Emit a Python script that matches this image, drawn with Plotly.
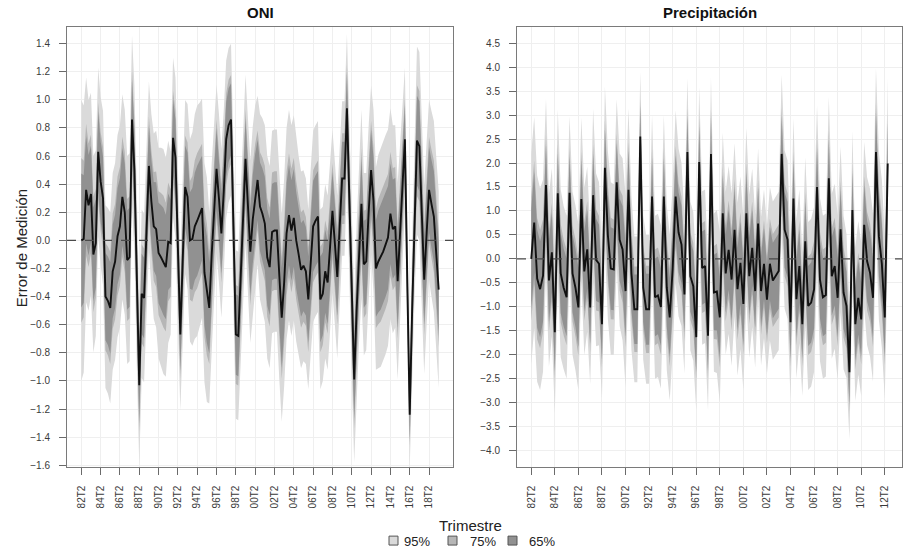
import numpy as np
import plotly.graph_objects as go

# ---------------- data ----------------
oni_tick_labels = ["82T2", "84T2", "86T2", "88T2", "90T2", "92T2", "94T2", "96T2", "98T2", "00T2",
                   "02T2", "04T2", "06T2", "08T2", "10T2", "12T2", "14T2", "16T2", "18T2"]
prec_tick_labels = ["82T2", "84T2", "86T2", "88T2", "90T2", "92T2", "94T2", "96T2", "98T2", "00T2",
                    "02T2", "04T2", "06T2", "08T2", "10T2", "12T2"]

# ONI: point estimate of the measurement error, quarterly from 82T2
oni_center = [
    0.00, 0.01, 0.36, 0.25, 0.33, -0.10, -0.02, 0.63, 0.42, 0.30,
    -0.40, -0.43, -0.48, -0.22, -0.15, 0.03, 0.10, 0.31, 0.20, -0.14,
    -0.12, 0.86, 0.50, -0.30, -1.03, -0.38, -0.41, 0.06, 0.53, 0.28,
    0.10, 0.08, -0.09, -0.12, -0.15, -0.19, -0.01, -0.02, 0.73, 0.59,
    -0.05, -0.67, -0.14, 0.38, 0.31, 0.00, 0.01, 0.10, 0.14, 0.18,
    0.23, -0.23, -0.35, -0.48, -0.10, 0.20, 0.51, 0.30, 0.05, 0.35,
    0.72, 0.82, 0.86, 0.10, -0.67, -0.68, -0.26, 0.16, 0.58, 0.25,
    -0.08, 0.15, 0.30, 0.43, 0.24, 0.19, 0.12, -0.12, -0.19, 0.06,
    0.07, 0.07, -0.25, -0.55, -0.30, 0.05, 0.18, 0.07, 0.16, 0.00,
    -0.10, -0.21, -0.18, -0.22, -0.42, -0.15, 0.10, 0.14, 0.17, -0.42,
    -0.38, -0.22, -0.30, -0.05, 0.21, -0.02, -0.26, 0.10, 0.44, 0.44,
    0.94, 0.30, -0.40, -0.99, -0.50, -0.10, 0.26, -0.17, -0.15, 0.20,
    0.50, 0.28, -0.20, -0.15, -0.12, -0.08, -0.03, 0.02, 0.19, 0.08,
    0.10, -0.29, 0.05, 0.40, 0.72, -0.30, -1.24, -0.50, 0.20, 0.71,
    0.67, 0.20, -0.28, 0.05, 0.36, 0.26, 0.17, -0.10, -0.35,
]
# ONI: half width of the 95% band
oni_w95 = [
    1.00, 0.95, 0.80, 0.75, 0.72, 0.70, 0.66, 0.60, 0.60, 0.62,
    0.65, 0.66, 0.68, 0.70, 0.70, 0.72, 0.72, 0.73, 0.73, 0.74,
    0.74, 0.60, 0.60, 0.60, 0.57, 0.60, 0.60, 0.60, 0.60, 0.62,
    0.66, 0.70, 0.75, 0.78, 0.80, 0.78, 0.72, 0.65, 0.57, 0.57,
    0.55, 0.54, 0.58, 0.62, 0.66, 0.72, 0.76, 0.80, 0.82, 0.80,
    0.78, 0.78, 0.80, 0.68, 0.65, 0.62, 0.60, 0.60, 0.60, 0.58,
    0.56, 0.55, 0.54, 0.58, 0.60, 0.60, 0.62, 0.62, 0.60, 0.62,
    0.65, 0.66, 0.66, 0.60, 0.66, 0.68, 0.70, 0.72, 0.72, 0.72,
    0.72, 0.72, 0.74, 0.74, 0.74, 0.75, 0.75, 0.75, 0.73, 0.72,
    0.70, 0.70, 0.68, 0.66, 0.64, 0.66, 0.68, 0.68, 0.68, 0.64,
    0.62, 0.62, 0.62, 0.60, 0.58, 0.58, 0.58, 0.56, 0.55, 0.55,
    0.53, 0.55, 0.57, 0.59, 0.60, 0.63, 0.67, 0.65, 0.63, 0.62,
    0.60, 0.65, 0.72, 0.76, 0.78, 0.78, 0.78, 0.77, 0.75, 0.74,
    0.72, 0.70, 0.62, 0.56, 0.51, 0.45, 0.38, 0.50, 0.60, 0.67,
    0.67, 0.67, 0.67, 0.65, 0.64, 0.66, 0.68, 0.69, 0.70,
]

# Precipitacion: point estimate, quarterly from 82T2
prec_center = [
    0.00, 0.76, -0.41, -0.63, -0.35, 1.54, -0.45, 0.14, -1.53, 1.37,
    -0.30, -0.60, -0.80, 1.38, -0.30, -0.60, -1.01, 1.25, -0.26, 0.20,
    -1.01, 1.33, -0.02, -0.10, -1.36, 1.90, 0.50, -0.20, -0.22, 1.60,
    0.40, 0.20, -0.67, 1.44, -0.30, -1.05, -1.05, 2.55, -0.60, -1.05,
    -1.05, 1.30, -0.80, -0.76, -1.00, 1.30, -0.60, -1.22, -0.20, 1.30,
    0.55, 0.30, -0.74, 2.23, -0.36, -0.57, -1.63, 2.02, -0.19, -0.15,
    -1.60, 2.19, -0.70, -0.68, -1.22, 0.95, -0.30, 0.19, -0.43, 0.61,
    -0.63, -0.08, -0.94, 0.95, -0.36, 0.23, -0.67, 0.74, -0.67, -0.10,
    -0.85, -0.10, -0.45, -0.35, -0.25, 2.19, 0.61, 0.40, -1.32, 1.26,
    -0.84, -0.15, -1.36, 0.37, -0.98, -0.91, -0.63, 1.50, -0.43, -0.80,
    -0.75, 1.68, -0.36, -0.15, -0.81, 0.62, -0.70, -0.98, -2.36, 1.02,
    -1.36, -0.81, -1.26, 0.71, -0.05, -0.29, -0.81, 2.23, 0.47, -0.10,
    -1.22, 1.99,
]
# Precipitacion: half width of the 95% band
prec_w95 = [
    2.20, 2.20, 2.15, 2.10, 2.00, 1.80, 1.80, 1.75, 1.70, 1.75,
    1.75, 1.70, 1.70, 1.60, 1.70, 1.72, 1.73, 1.70, 1.75, 1.72,
    1.60, 1.80, 1.80, 1.70, 1.55, 1.70, 1.75, 1.80, 1.78, 1.73,
    1.80, 1.90, 2.00, 1.70, 1.60, 1.52, 1.52, 1.35, 1.50, 1.55,
    1.55, 1.70, 1.70, 1.70, 1.70, 1.70, 1.72, 1.73, 1.75, 1.80,
    1.75, 1.70, 1.65, 1.55, 1.55, 1.55, 1.53, 1.57, 1.60, 1.60,
    1.56, 1.60, 1.65, 1.70, 1.78, 1.68, 1.70, 1.75, 1.80, 1.80,
    1.80, 1.80, 1.80, 1.78, 1.70, 1.65, 1.60, 1.57, 1.55, 1.55,
    1.55, 1.60, 1.65, 1.65, 1.65, 1.65, 1.65, 1.65, 1.60, 1.68,
    1.65, 1.60, 1.50, 1.75, 1.75, 1.75, 1.72, 1.70, 1.70, 1.70,
    1.70, 1.70, 1.72, 1.72, 1.72, 1.72, 1.60, 1.50, 1.40, 1.65,
    1.60, 1.60, 1.60, 1.73, 1.75, 1.75, 1.75, 1.75, 1.75, 1.75,
    1.70, 1.80,
]

level_names = ["95%", "75%", "65%"]
level_z = [1.959964, 1.150349, 0.934589]
level_colors = ["#dadada", "#b6b6b6", "#919191"]

# ---------------- figure ----------------
W, H = 903, 556
FONT = "Liberation Sans, Arial, sans-serif"
fig = go.Figure()


def add_panel(center, w95, xa, ya):
    c = np.array(center, dtype=float)
    sd = np.array(w95, dtype=float) / level_z[0]
    x = np.arange(len(c))
    for name, z, col in zip(level_names, level_z, level_colors):
        up = c + z * sd
        lo = c - z * sd
        fig.add_trace(go.Scatter(
            x=np.concatenate([x, x[::-1]]), y=np.concatenate([up, lo[::-1]]),
            fill="toself", fillcolor=col, mode="lines", line=dict(width=0),
            hoverinfo="skip", showlegend=False, xaxis=xa, yaxis=ya))
    fig.add_trace(go.Scatter(x=x, y=c, mode="lines",
                             line=dict(color="#111111", width=1.9),
                             showlegend=False, xaxis=xa, yaxis=ya))


add_panel(oni_center, oni_w95, "x", "y")
add_panel(prec_center, prec_w95, "x2", "y2")

axis_common = dict(
    showline=True, mirror=True, linecolor="#7a7a7a", linewidth=1,
    ticks="outside", ticklen=7, tickcolor="#6a6a6a", tickwidth=1,
    showgrid=True, gridcolor="#efefef", gridwidth=1, zeroline=False,
    tickfont=dict(family=FONT, size=10, color="#3a3a3a"),
)


def px_x(p):
    return p / W


def px_y(p):
    return 1 - p / H


y_dom = [px_y(470), px_y(27)]

fig.update_layout(
    width=W, height=H, margin=dict(l=0, r=0, t=0, b=0),
    plot_bgcolor="white", paper_bgcolor="white",
    xaxis=dict(domain=[px_x(67), px_x(453)], range=[-5.92, 153.92],
               tickvals=[8 * k for k in range(len(oni_tick_labels))], ticktext=oni_tick_labels,
               tickangle=-90, ticklabelstandoff=7, anchor="y", **axis_common),
    yaxis=dict(domain=y_dom, range=[-1.61, 1.52],
               tickvals=[round(-1.6 + 0.2 * k, 1) for k in range(16)], tickformat=".1f",
               ticklabelstandoff=7, anchor="x", **axis_common),
    xaxis2=dict(domain=[px_x(517), px_x(902)], range=[-4.84, 125.84],
                tickvals=[8 * k for k in range(len(prec_tick_labels))], ticktext=prec_tick_labels,
                tickangle=-90, ticklabelstandoff=7, anchor="y2", **axis_common),
    yaxis2=dict(domain=y_dom, range=[-4.33, 4.84],
                tickvals=[round(-4.0 + 0.5 * k, 1) for k in range(18)], tickformat=".1f",
                ticklabelstandoff=7, anchor="x2", **axis_common),
)

shapes = []
for xref, yref in [("x domain", "y"), ("x2 domain", "y2")]:
    shapes.append(dict(type="line", xref=xref, yref=yref, x0=0, x1=1, y0=0, y1=0,
                       line=dict(color="#4a4a4a", width=1.2, dash="dash"), layer="above"))

# custom legend
legend_items = [(389, 402), (448, 468), (508, 527)]
annotations = []
for (sx, tx), name, col in zip(legend_items, level_names, level_colors):
    shapes.append(dict(type="rect", xref="paper", yref="paper",
                       x0=px_x(sx), x1=px_x(sx + 9), y0=px_y(549), y1=px_y(540),
                       fillcolor=col, line=dict(color="#555555", width=1)))
    annotations.append(dict(x=px_x(tx), y=px_y(545), xref="paper", yref="paper", text=name,
                            showarrow=False, xanchor="left", yanchor="middle",
                            font=dict(family=FONT, size=13, color="#222222")))

annotations += [
    dict(x=px_x(260), y=px_y(13), xref="paper", yref="paper", text="<b>ONI</b>", showarrow=False,
         xanchor="center", yanchor="middle", font=dict(family=FONT, size=15, color="#111111")),
    dict(x=px_x(710), y=px_y(13), xref="paper", yref="paper", text="<b>Precipitación</b>",
         showarrow=False, xanchor="center", yanchor="middle",
         font=dict(family=FONT, size=15, color="#111111")),
    dict(x=px_x(21), y=px_y(250), xref="paper", yref="paper", text="Error de Medición",
         showarrow=False, textangle=-90, xanchor="center", yanchor="middle",
         font=dict(family=FONT, size=15, color="#222222")),
    dict(x=px_x(470), y=px_y(529), xref="paper", yref="paper", text="Trimestre",
         showarrow=False, xanchor="center", yanchor="middle",
         font=dict(family=FONT, size=15, color="#222222")),
]

fig.update_layout(shapes=shapes, annotations=annotations)
fig.write_html("out.html")
